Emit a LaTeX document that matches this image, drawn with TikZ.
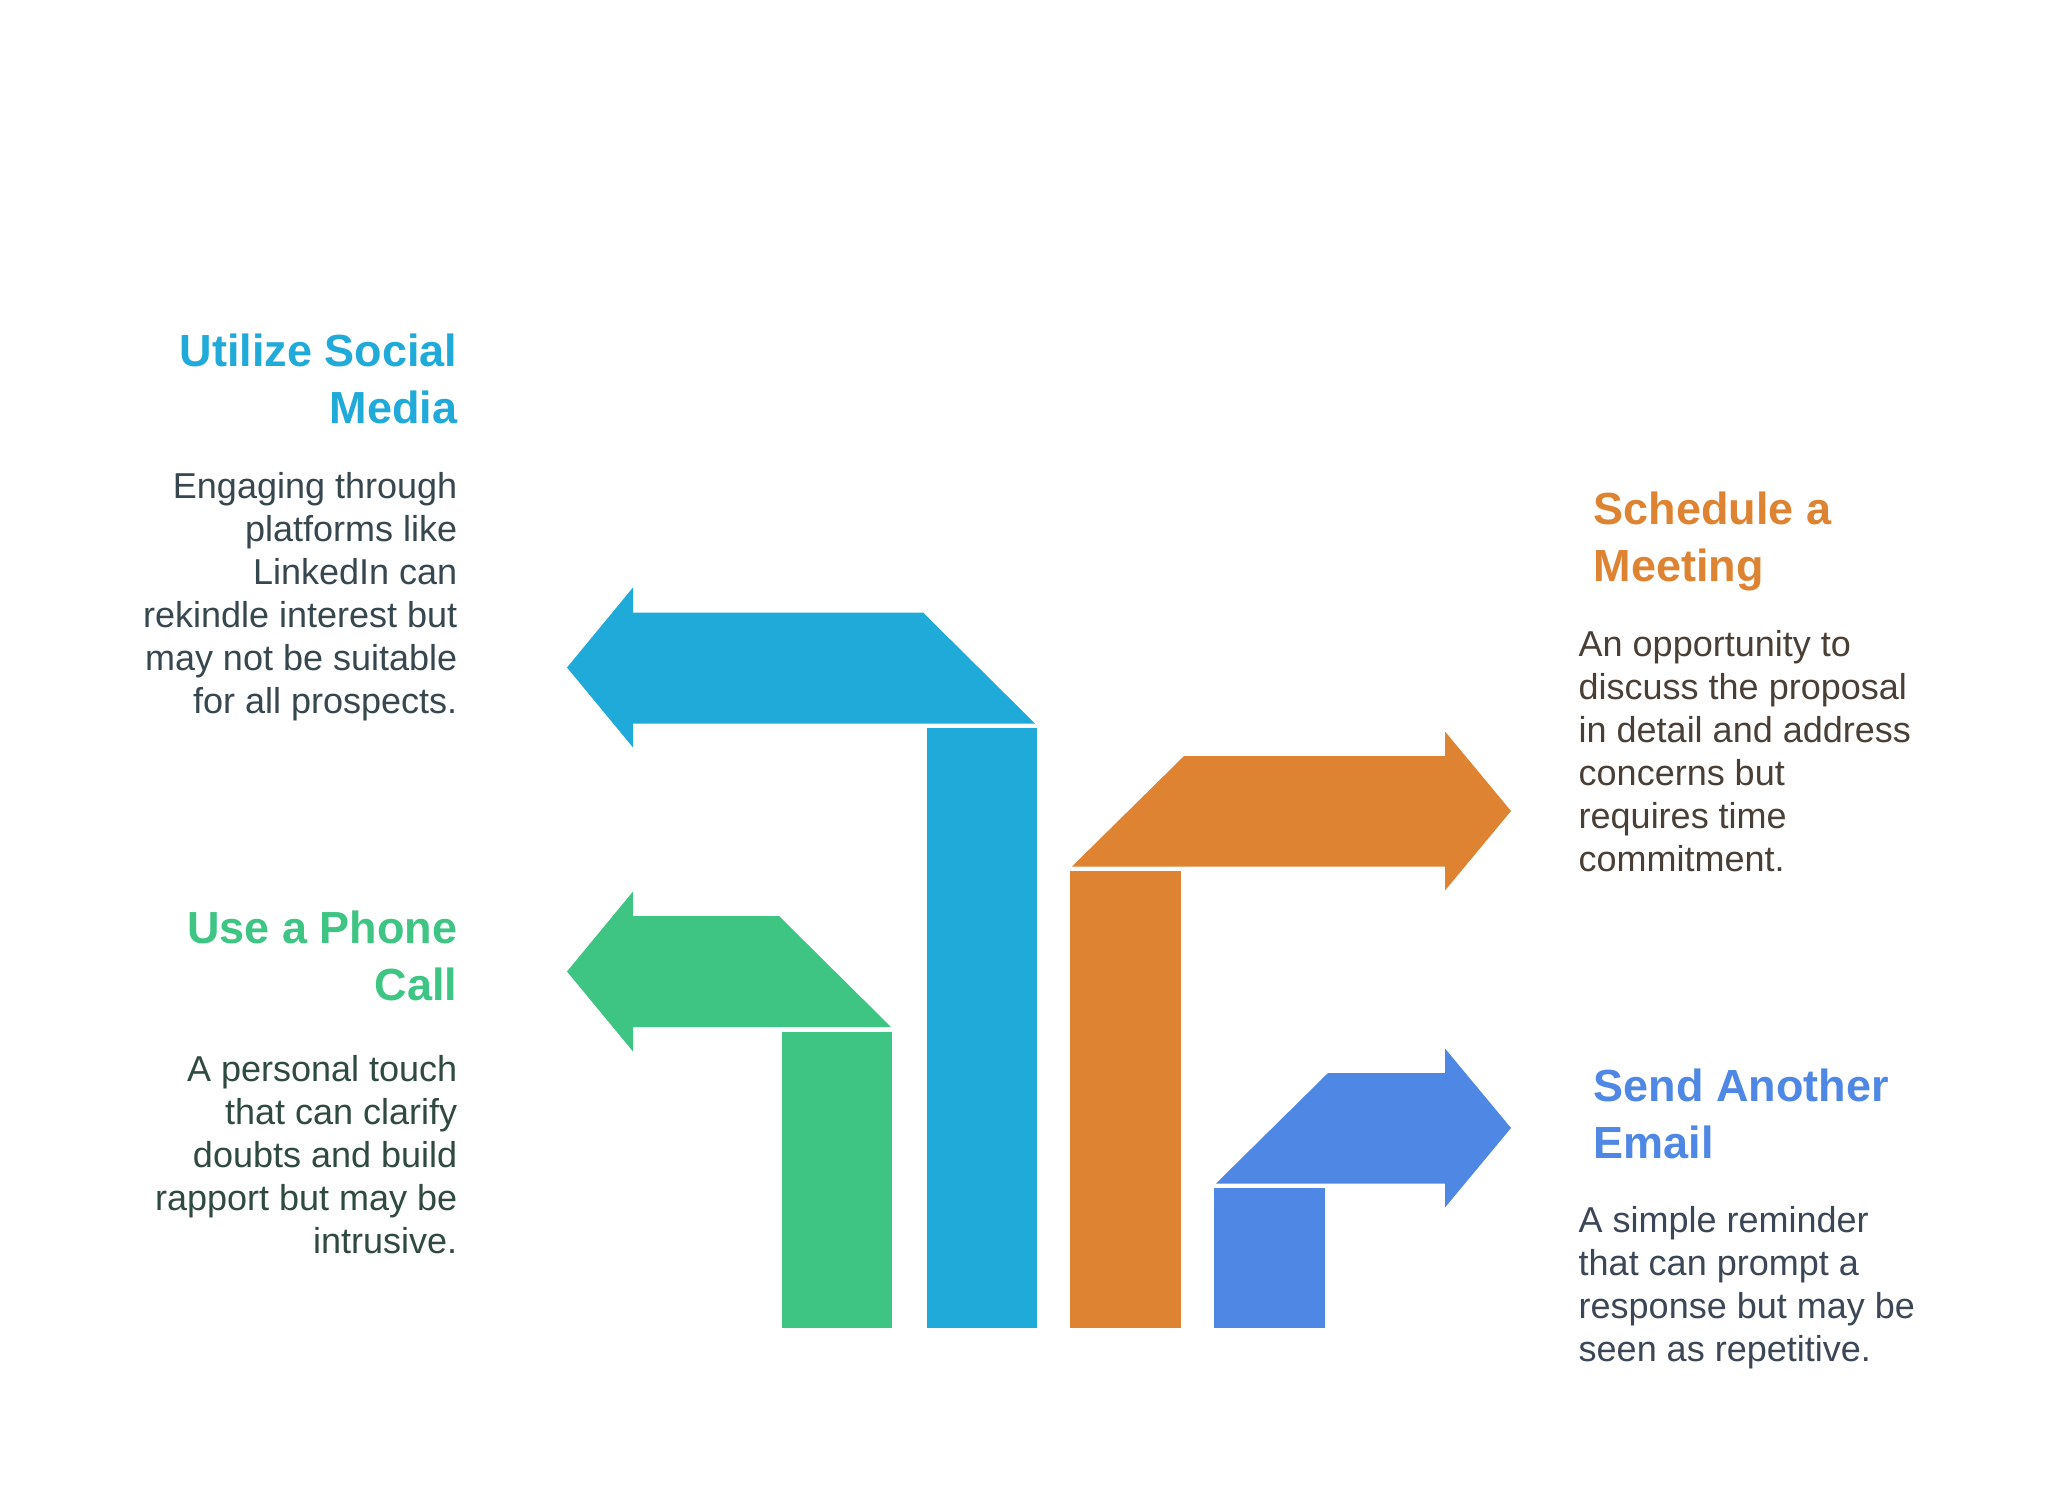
\documentclass[tikz,border=0pt]{standalone}
\usepackage{fontspec}
\setmainfont{Liberation Sans}
\usepackage{xcolor}
\usetikzlibrary{calc}
\definecolor{social}{HTML}{20AAD9}
\definecolor{phone}{HTML}{3EC584}
\definecolor{meet}{HTML}{DE8331}
\definecolor{mail}{HTML}{4E88E4}
\definecolor{socialink}{HTML}{36474F}
\definecolor{phoneink}{HTML}{2F4A3F}
\definecolor{meetink}{HTML}{4A3F36}
\definecolor{mailink}{HTML}{3B4657}
\tikzset{
  headtxt/.style={inner sep=0pt, font=\fontsize{22.5}{28.5}\selectfont\bfseries},
  bodytxt/.style={inner sep=0pt, font=\fontsize{18}{21.5}\selectfont},
  leftcol/.style={align=right, anchor=base east},
  rightcol/.style={align=left, anchor=base west},
}

\begin{document}
\begin{tikzpicture}[x=0.5pt, y=-0.5pt]
\useasboundingbox[fill=white] (0,0) rectangle (2050,1503);

% bars
\fill[phone]  (782,1032) rectangle (892,1328);
\fill[social] (927,728)  rectangle (1037,1328);
\fill[meet]   (1070,871) rectangle (1181,1328);
\fill[mail]   (1214,1188) rectangle (1325,1328);

% bent arrows
\fill[social] (567,667.5) -- (633,587.5) -- (633,612.5) -- (923,612.5) -- (1035,723.5)
  -- (633,723.5) -- (633,747.5) -- cycle;
\fill[phone] (567,971.5) -- (633,891.5) -- (633,916) -- (779,916) -- (891,1027)
  -- (633,1027) -- (633,1051.5) -- cycle;
\fill[meet] (1072,866.5) -- (1184,756) -- (1445,756) -- (1445,731.5) -- (1511,811)
  -- (1445,890.5) -- (1445,866.5) -- cycle;
\fill[mail] (1216,1183.5) -- (1328,1073) -- (1445,1073) -- (1445,1048.5) -- (1511,1128)
  -- (1445,1207.5) -- (1445,1183.5) -- cycle;

% texts (anchored on the last line)
\node[headtxt, leftcol, text=social] (socialhead) at (457.6,423.5) {Utilize Social\\Media};
\node[bodytxt, leftcol, text=socialink] (socialbody) at (457.6,713.5)
 {Engaging through\\platforms like\\LinkedIn can\\rekindle interest but\\may not be suitable\\for all prospects.};
\node[headtxt, leftcol, text=phone] (phonehead) at (457.6,1000.3) {Use a Phone\\Call};
\node[bodytxt, leftcol, text=phoneink] (phonebody) at (457.6,1253)
 {A personal touch\\that can clarify\\doubts and build\\rapport but may be\\intrusive.};
\node[headtxt, rightcol, text=meet] (meethead) at (1593.3,581) {Schedule a\\Meeting};
\node[bodytxt, rightcol, text=meetink] (meetbody) at (1578.3,871)
 {An opportunity to\\discuss the proposal\\in detail and address\\concerns but\\requires time\\commitment.};
\node[headtxt, rightcol, text=mail] (mailhead) at (1593.3,1158) {Send Another\\Email};
\node[bodytxt, rightcol, text=mailink] (mailbody) at (1578.3,1361.5)
 {A simple reminder\\that can prompt a\\response but may be\\seen as repetitive.};
\end{tikzpicture}
\end{document}
